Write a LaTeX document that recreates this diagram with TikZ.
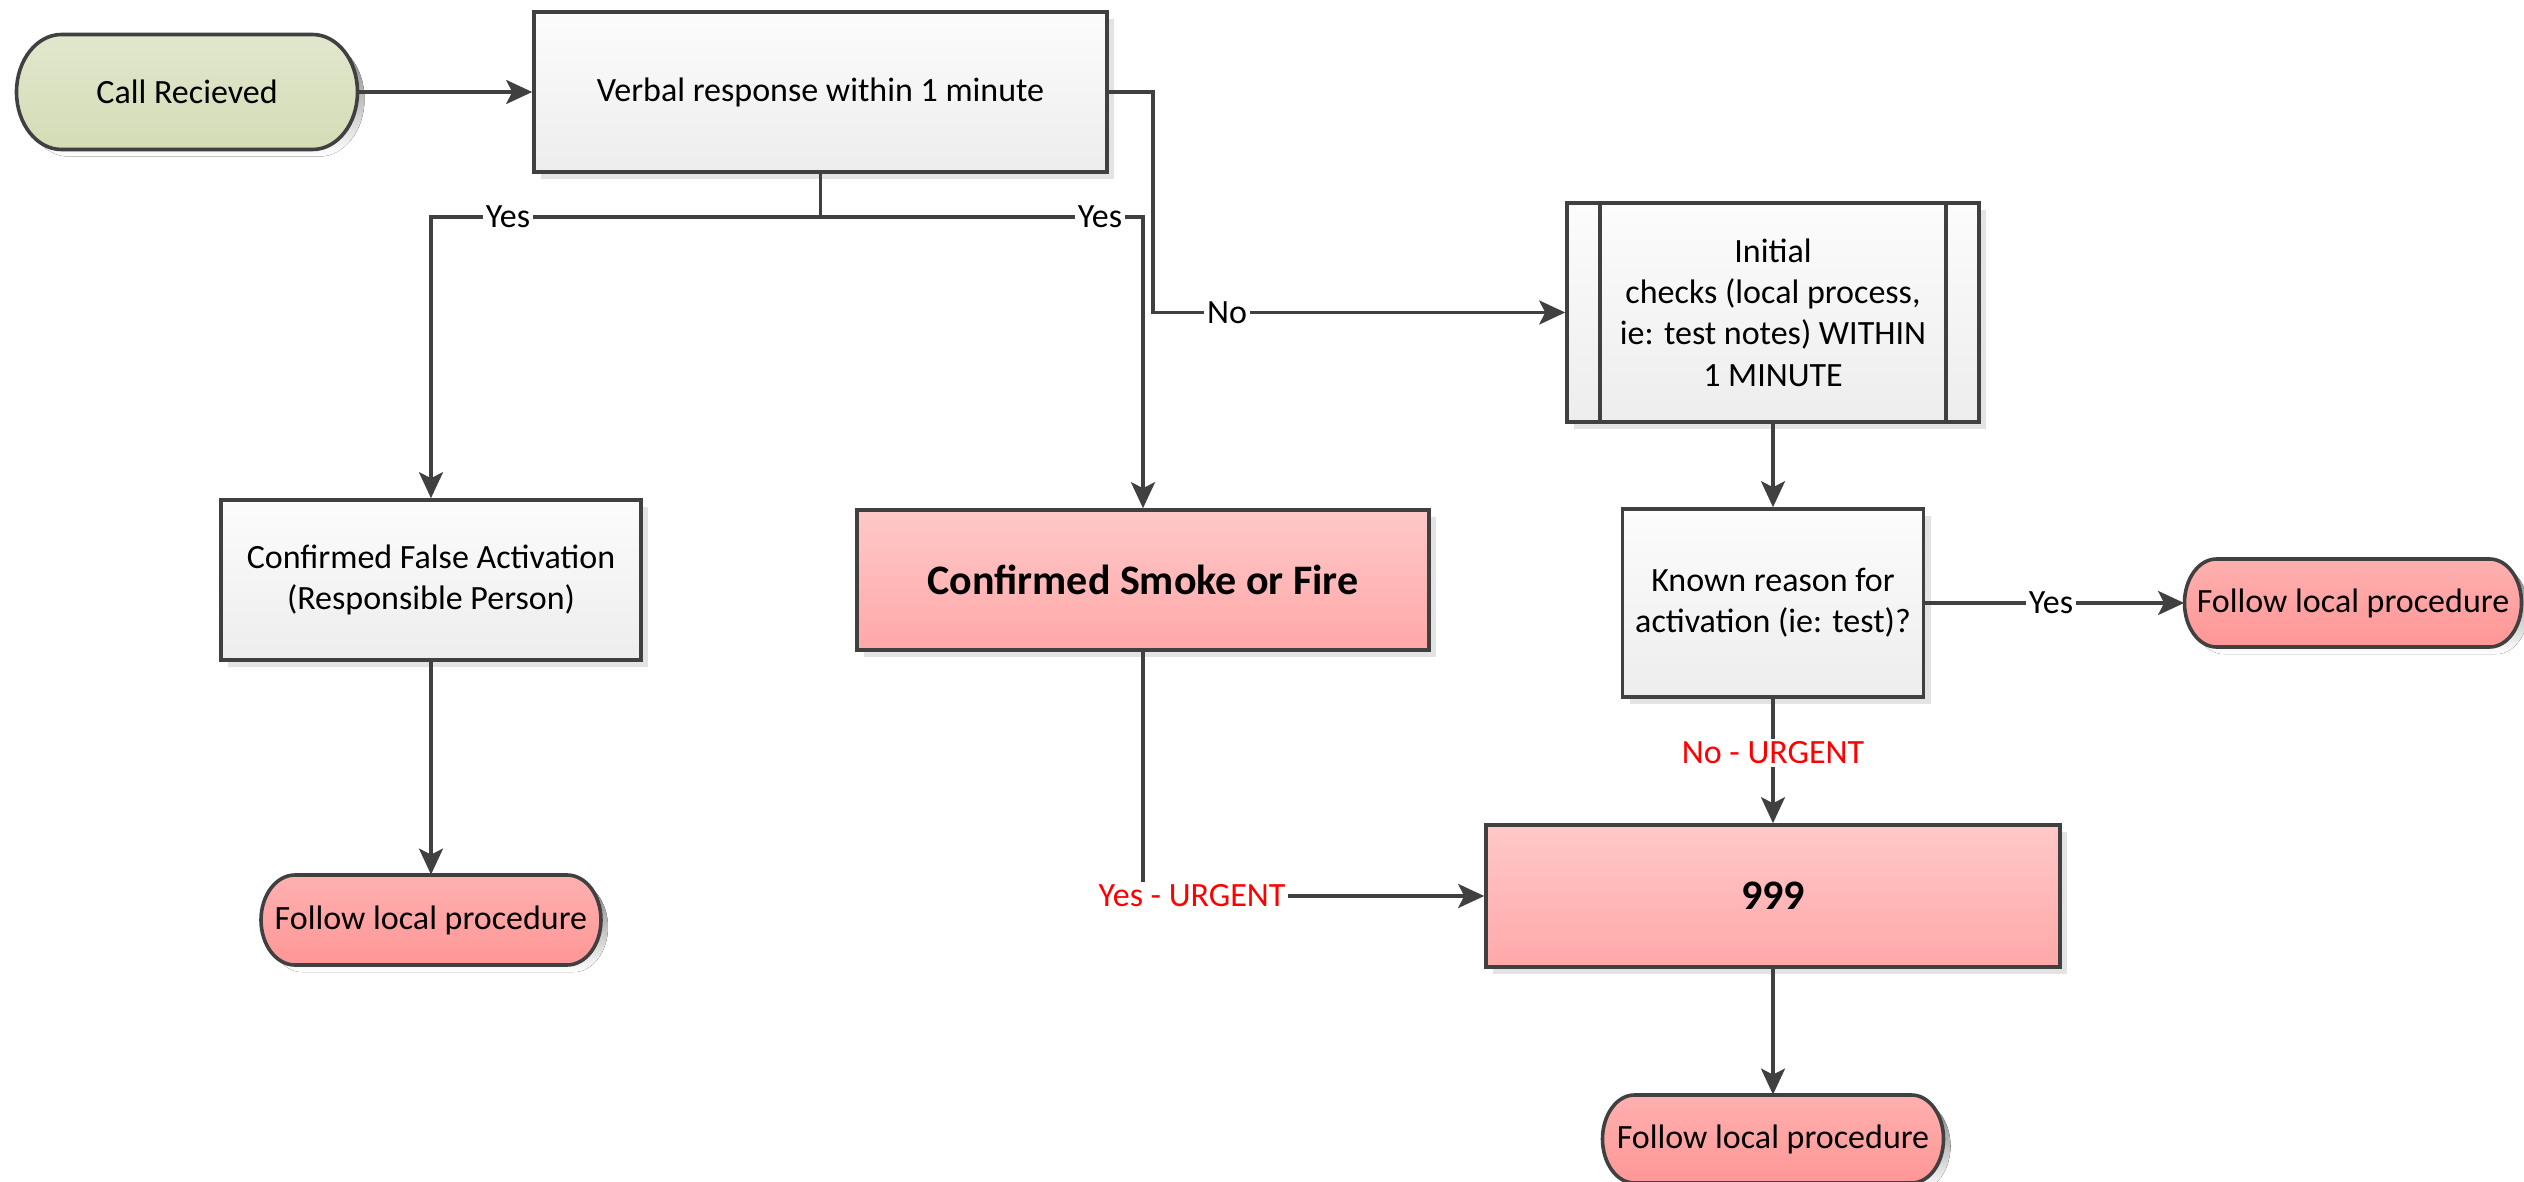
\documentclass[tikz,border=0pt]{standalone}
\usepackage{fontspec}
\setmainfont{Carlito}
\usetikzlibrary{arrows.meta,shadows}

\definecolor{edge}{HTML}{404040}
\definecolor{shade}{HTML}{E3E3E3}
\definecolor{greyTop}{HTML}{FCFCFC}
\definecolor{greyBot}{HTML}{EDEDED}
\definecolor{pinkTop}{HTML}{FFC8C8}
\definecolor{pinkBot}{HTML}{FFA8A8}
\definecolor{termTop}{HTML}{FFB0B0}
\definecolor{termBot}{HTML}{FF9696}
\definecolor{greenTop}{HTML}{E1E7CD}
\definecolor{greenBot}{HTML}{D4DCB6}
\definecolor{urgent}{HTML}{FF0000}

% Outline of a start/end shape with elliptical ends:
% centre x, centre y, width, height, horizontal radius of the ends
\newcommand\termpath[5]{%
  (#1-#3/2+#5,#2-#4/2) -- (#1+#3/2-#5,#2-#4/2)
  .. controls (#1+#3/2-0.448*#5,#2-#4/2) and (#1+#3/2,#2-0.276*#4) .. (#1+#3/2,#2)
  .. controls (#1+#3/2,#2+0.276*#4) and (#1+#3/2-0.448*#5,#2+#4/2) .. (#1+#3/2-#5,#2+#4/2)
  -- (#1-#3/2+#5,#2+#4/2)
  .. controls (#1-#3/2+0.448*#5,#2+#4/2) and (#1-#3/2,#2+0.276*#4) .. (#1-#3/2,#2)
  .. controls (#1-#3/2,#2-0.276*#4) and (#1-#3/2+0.448*#5,#2-#4/2) .. (#1-#3/2+#5,#2-#4/2)
  -- cycle}

% Draw a start/end shape: shadow, shaded body, outline
\newcommand\terminal[7]{%
  \fill[shade] \termpath{#1+7}{#2+7}{#3}{#4}{#5};
  \path[top color=#6,bottom color=#7,draw=edge,line width=1.8pt] \termpath{#1}{#2}{#3}{#4}{#5};
}

\tikzset{
  txt/.style={font=\fontsize{17pt}{20.7pt}\selectfont, text=black, align=center},
  bigtxt/.style={font=\fontsize{21pt}{25pt}\selectfont\bfseries, text=black, align=center},
  box/.style={txt, draw=edge, line width=1.8pt, rectangle, inner sep=0pt,
    drop shadow={shadow xshift=3.5pt, shadow yshift=-3.5pt, fill=shade, opacity=1}},
  greybox/.style={box, top color=greyTop, bottom color=greyBot},
  pinkbox/.style={box, top color=pinkTop, bottom color=pinkBot},
  termtext/.style={txt, rectangle, inner sep=0pt},
  conn/.style={draw=edge, line width=1.6pt,
    -{Stealth[length=13pt,width=12pt,inset=3pt]}},
  lbl/.style={txt, fill=white, inner sep=1.5pt},
  urgentlbl/.style={lbl, text=urgent},
}

\begin{document}
\begin{tikzpicture}[x=0.5pt,y=-0.5pt]
\useasboundingbox (0,0) rectangle (2524,1182);

% start/end shapes
\terminal{187}{92}{341}{115}{45}{greenTop}{greenBot}
\node[termtext, minimum width=170.5pt, minimum height=57.5pt] (call) at (187,92) {Call Recieved};

\terminal{431}{920}{340}{90}{34}{termTop}{termBot}
\node[termtext, minimum width=170pt, minimum height=45pt] (followL) at (431,920) {Follow local procedure};

\terminal{2353}{603}{337}{88}{32}{termTop}{termBot}
\node[termtext, minimum width=168.5pt, minimum height=44pt] (followR) at (2353,603) {Follow local procedure};

\terminal{1773}{1139}{341}{88}{32}{termTop}{termBot}
\node[termtext, minimum width=170.5pt, minimum height=44pt] (followB) at (1773,1139) {Follow local procedure};

% process boxes
\node[greybox, minimum width=286.5pt, minimum height=80pt] (verbal) at (820.5,92)
  {Verbal response within 1 minute};
\node[greybox, minimum width=210pt, minimum height=80pt] (cfa) at (431,580)
  {Confirmed False Activation\\(Responsible Person)};
\node[pinkbox, bigtxt, minimum width=286pt, minimum height=70pt] (smoke) at (1143,580)
  {Confirmed Smoke or Fire};
\node[greybox, minimum width=206pt, minimum height=109.5pt] (init) at (1773,312.5)
  {Initial\\checks (local process,\\ie: test notes) WITHIN\\1 MINUTE};
\draw[edge, line width=1.8pt] ([xshift=17.5pt]init.north west) -- ([xshift=17.5pt]init.south west);
\draw[edge, line width=1.8pt] ([xshift=-17.5pt]init.north east) -- ([xshift=-17.5pt]init.south east);
\node[greybox, minimum width=150.5pt, minimum height=94pt] (known) at (1773,603)
  {Known reason for\\activation (ie: test)?};
\node[pinkbox, bigtxt, minimum width=287pt, minimum height=71pt] (urgent999) at (1773,896) {999};

% junction and bend points
\coordinate (split) at (820.5,217);
\coordinate (noBend) at (1153,92);

% connectors
\draw[conn] (call.east) -- (verbal.west);
\draw[conn] (verbal.south) -- (split) -| (cfa.north);
\draw[conn] (verbal.south) -- (split) -| (smoke.north);
\draw[conn] (verbal.east) -- (noBend) |- (init.west);
\draw[conn] (init.south) -- (known.north);
\draw[conn] (known.east) -- (followR.west);
\draw[conn] (known.south) -- (urgent999.north);
\draw[conn] (smoke.south) |- (urgent999.west);
\draw[conn] (urgent999.south) -- (followB.north);
\draw[conn] (cfa.south) -- (followL.north);

% connector labels
\node[lbl] (yesL) at (508,217) {Yes};
\node[lbl] (yesR) at (1100,217) {Yes};
\node[lbl] (noInit) at (1227,313) {No};
\node[lbl] (yesKnown) at (2051,603) {Yes};
\node[urgentlbl] (noUrgent) at (1773,753) {No - URGENT};
\node[urgentlbl] (yesUrgent) at (1192,896) {Yes - URGENT};
\end{tikzpicture}
\end{document}
